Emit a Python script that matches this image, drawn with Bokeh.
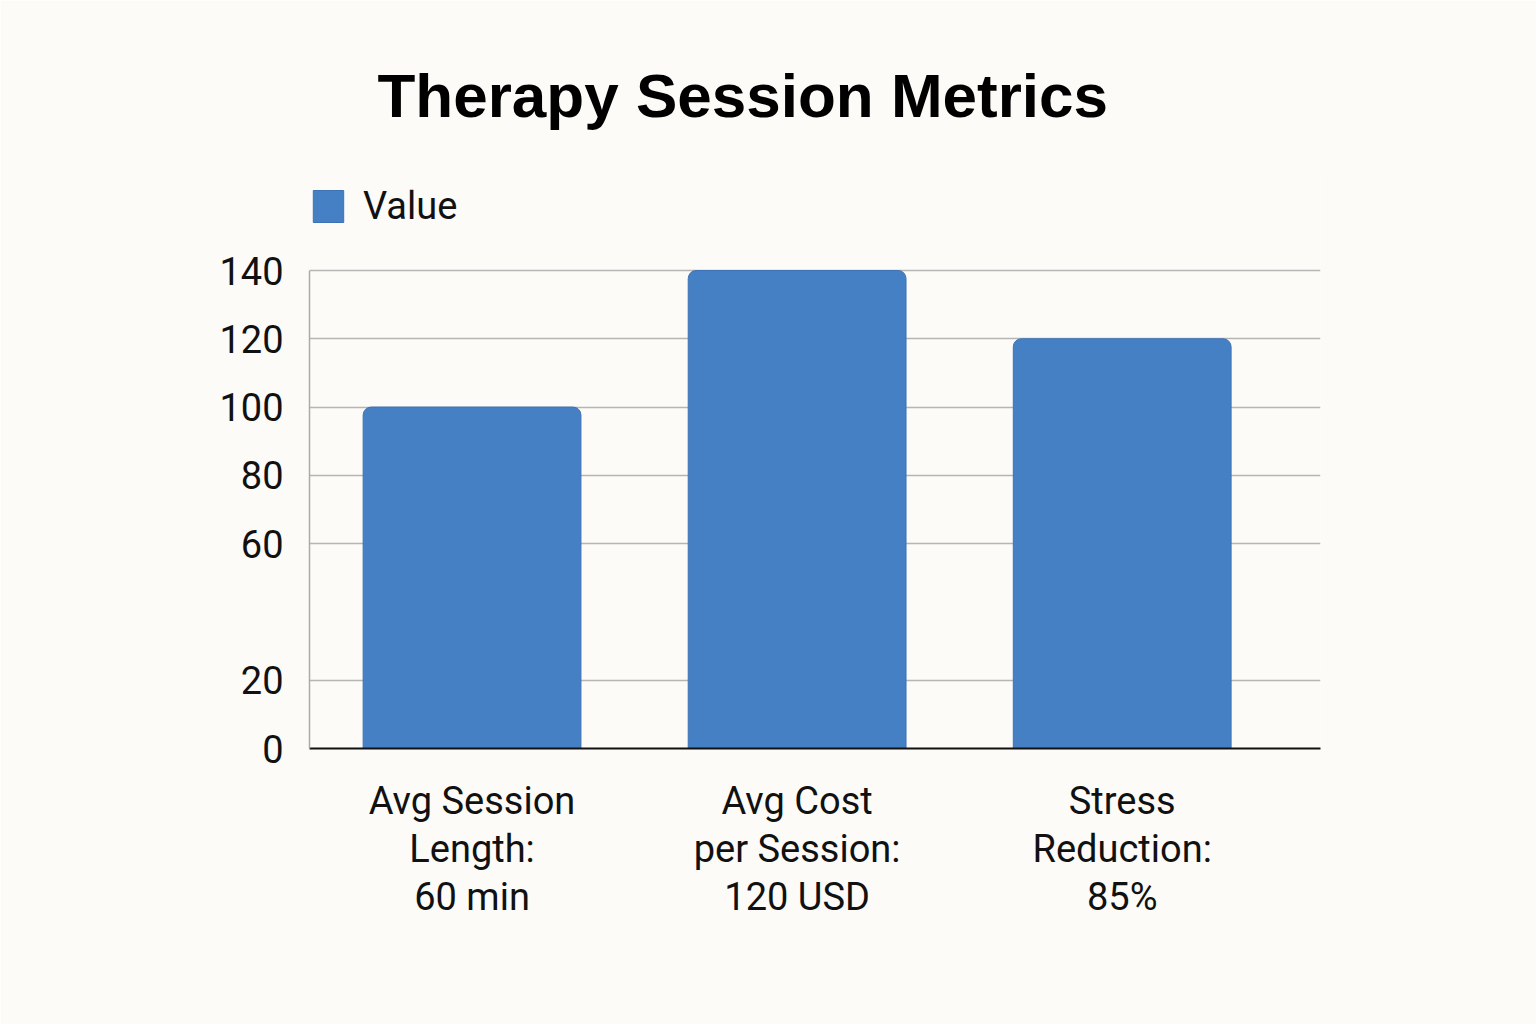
from bokeh.plotting import figure
from bokeh.models import (Range1d, FixedTicker, Legend, LegendItem, ColumnDataSource, Title)
from bokeh.embed import file_html
from bokeh.resources import INLINE

categories = ["Avg Session\nLength:\n60 min", "Avg Cost\nper Session:\n120 USD", "Stress\nReduction:\n85%"]
values = [100, 140, 120]
y_ticks = [0, 20, 60, 80, 100, 120, 140]
series_name = "Value"
title_text = "Therapy Session Metrics"

BG = "#FCFBF7"
BAR = "#4680C4"

W, H = 1536, 1024
TOP, BOTTOM, LEFT, RIGHT = 174, 276, 309, 216
frame_h = H - TOP - BOTTOM
axis_top_px = 748 - 270  # pixel height of the 0..140 span
y_end = max(y_ticks) * frame_h / axis_top_px  # headroom for the legend inside the frame

xs = [i + 0.5 for i in range(len(categories))]
src = ColumnDataSource(dict(x=xs, top=values))

p = figure(width=W, height=H, output_backend="svg", toolbar_location=None,
           x_range=Range1d(0, 3.11), y_range=Range1d(0, y_end),
           min_border_left=LEFT, min_border_right=RIGHT, min_border_top=TOP, min_border_bottom=BOTTOM,
           background_fill_color=BG, border_fill_color=BG, outline_line_color=None)

r = p.vbar(x="x", top="top", width=0.67, source=src, fill_color=BAR,
           line_color="#3D73B5", line_width=1, border_radius={"top_left": 8, "top_right": 8})

t = Title(text=title_text, text_font="Liberation Sans", text_font_size="62px",
          text_font_style="bold", text_color="#000000", align="left", offset=68, standoff=89)
p.add_layout(t, "above")

# axes
p.xaxis.ticker = FixedTicker(ticks=xs)
p.xaxis.major_label_overrides = {x: c for x, c in zip(xs, categories)}
p.xaxis.major_label_text_font = "Roboto"
p.xaxis.major_label_text_font_size = "38px"
p.xaxis.major_label_text_color = "#111111"
p.xaxis.major_label_text_line_height = 1.1
p.xaxis.major_label_standoff = 24
p.xaxis.major_tick_line_color = None
p.xaxis.minor_tick_line_color = None
p.xaxis.axis_line_color = "#111111"
p.xaxis.axis_line_width = 2

p.yaxis.ticker = FixedTicker(ticks=y_ticks)
p.yaxis.bounds = (0, max(y_ticks))
p.yaxis.major_label_text_font = "Roboto"
p.yaxis.major_label_text_font_size = "38px"
p.yaxis.major_label_text_color = "#111111"
p.yaxis.major_label_standoff = 20
p.yaxis.major_tick_line_color = None
p.yaxis.minor_tick_line_color = None
p.yaxis.axis_line_color = "#AAAAAA"
p.yaxis.axis_line_width = 1.5

p.xgrid.grid_line_color = None
p.ygrid.grid_line_color = "#B5B5B5"
p.ygrid.grid_line_width = 1.5

legend = Legend(items=[LegendItem(label=series_name, renderers=[r])],
                location=(0, 520), orientation="horizontal",
                background_fill_alpha=0, border_line_color=None,
                padding=0, margin=0, spacing=0,
                glyph_width=38, glyph_height=40, label_height=40,
                label_standoff=16, label_text_font="Roboto", label_text_font_size="38px",
                label_text_color="#111111")
p.add_layout(legend, "center")

open("out.html", "w").write(file_html(p, INLINE))
